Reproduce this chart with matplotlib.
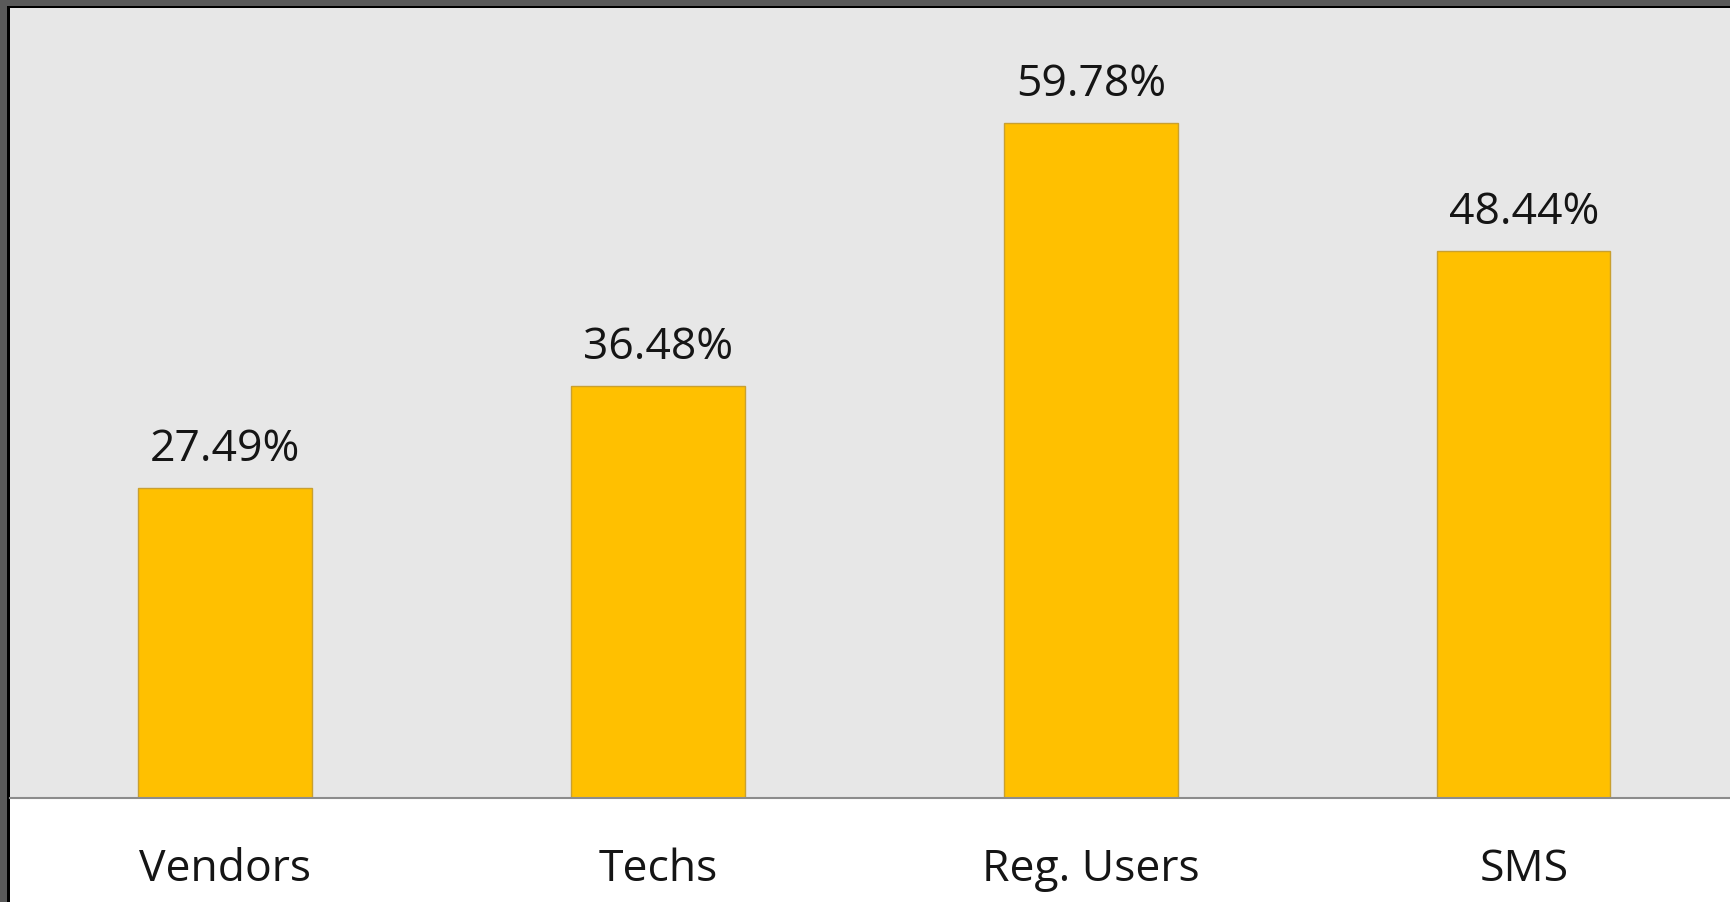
import matplotlib.pyplot as plt
from matplotlib.patches import Rectangle

# data
categories = ['Vendors', 'Techs', 'Reg. Users', 'SMS']
values = [27.49, 36.48, 59.78, 48.44]
value_labels = ['27.49%', '36.48%', '59.78%', '48.44%']

W, H = 1730, 902
fig = plt.figure(figsize=(W / 100, H / 100), dpi=100)
fig.patch.set_facecolor('#5a5a5a')

# white card and black frame lines (kept behind the axes)
fig.patches.append(Rectangle((7 / W, 0), 1, (H - 6) / H, transform=fig.transFigure,
                             facecolor='black', edgecolor='none', zorder=-10))
fig.patches.append(Rectangle((10 / W, 0), 1, (H - 8) / H, transform=fig.transFigure,
                             facecolor='white', edgecolor='none', zorder=-9))

ax = fig.add_axes([10 / W, (H - 798) / H, (W - 10) / W, (798 - 8) / H])
ax.set_facecolor('#e7e7e7')

x = list(range(len(categories)))
ax.bar(x, values, width=0.4, color='#ffc000', edgecolor='#c9a030', linewidth=1, zorder=2)

for xi, v, lab in zip(x, values, value_labels):
    ax.text(xi, v + 3.4, lab, ha='center', va='center', fontsize=32,
            family='Open Sans', color='#151515')

ax.set_xlim(-0.4965, 3.476)
ax.set_ylim(0, 70)
ax.set_yticks([])
ax.set_xticks(x)
ax.set_xticklabels(categories, fontsize=32, family='Open Sans', color='#151515')
ax.tick_params(axis='x', length=0, pad=35.5)
for side in ['top', 'right', 'left']:
    ax.spines[side].set_visible(False)
ax.spines['bottom'].set_color('#8c8c8c')
ax.spines['bottom'].set_linewidth(1.5)
ax.spines['bottom'].set_zorder(3)

fig.savefig('out.png', dpi=100, facecolor=fig.get_facecolor())
